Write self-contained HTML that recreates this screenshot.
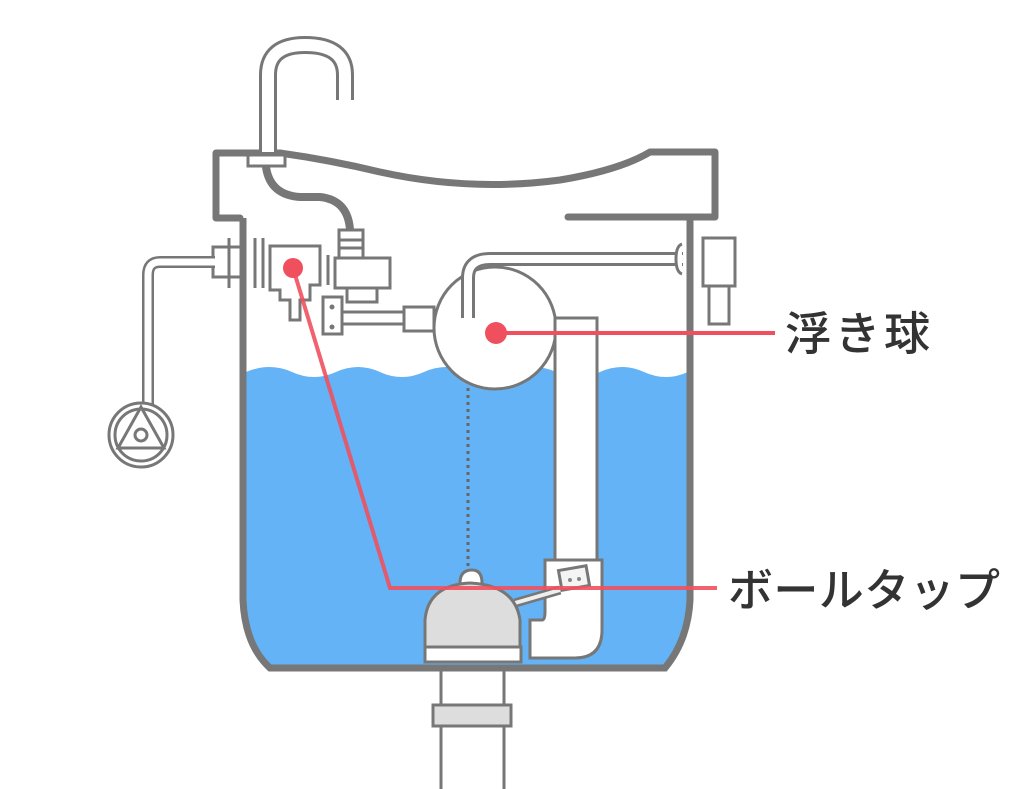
<!DOCTYPE html>
<html><head><meta charset="utf-8"><style>
html,body{margin:0;padding:0;background:#fff;}
svg{display:block}
</style></head><body>
<svg width="1024" height="789" viewBox="0 0 1024 789" xmlns="http://www.w3.org/2000/svg">
<rect width="1024" height="789" fill="#fff"/>
<!-- water -->
<path d="M246 372 Q270 362 292 372 T336 372 T380 372 T424 372 T468 372 T512 372 T556 372 T600 372 T644 372 T688 372 L688 600 Q686 640 663 666 L270 666 Q247 645 246 600 Z" fill="#63b3f6"/>
<!-- drain pipe -->
<rect x="441" y="668" width="63" height="121" fill="#fff"/>
<path d="M441 668 L441 789 M504 668 L504 789" stroke="#777" stroke-width="3"/>
<rect x="433" y="705" width="78" height="21" fill="#ddd" stroke="#777" stroke-width="3"/>
<!-- tank -->
<path d="M243 218 L243 600 Q245 645 270 668 L665 668 Q688 640 690 600 L690 218" fill="none" stroke="#777" stroke-width="7"/>
<path d="M240 218 L216 218 L216 153 L280 153 Q330 160 380 172 Q470 192 560 180 Q620 170 650 152 L715 152 L715 217 L568 217" fill="none" stroke="#777" stroke-width="7" stroke-linejoin="round" stroke-linecap="round"/>
<!-- faucet -->
<path d="M268 152 L268 75 Q268 45 305 45 Q345 45 345 75 L345 100" fill="none" stroke="#777" stroke-width="18"/>
<path d="M268 152 L268 75 Q268 45 305 45 Q345 45 345 75 L345 100" fill="none" stroke="#fff" stroke-width="12"/>
<rect x="248" y="155" width="37" height="11" fill="#fff" stroke="#777" stroke-width="3"/>
<!-- inner hose -->
<path d="M266 167 Q270 195 300 197 L320 197 Q348 200 350 230 L350 235" fill="none" stroke="#777" stroke-width="8"/>
<rect x="339" y="230" width="24" height="28" fill="#fff" stroke="#777" stroke-width="3"/>
<path d="M339 240 H363 M339 248 H363" stroke="#777" stroke-width="3"/>
<rect x="335" y="258" width="55" height="30" fill="#fff" stroke="#777" stroke-width="3"/>
<rect x="347" y="288" width="30" height="14" fill="#fff" stroke="#777" stroke-width="3"/>
<!-- left valve -->
<rect x="213" y="247" width="28" height="30" fill="#fff" stroke="#777" stroke-width="3"/>
<path d="M229 238 V288 M255 238 V288 M263 238 V288 M270 245 V282" stroke="#777" stroke-width="3"/>
<path d="M270 246 H320 V285 H310 V300 H300 V320 H290 V300 H280 V290 H270 Z" fill="#fff" stroke="#777" stroke-width="3"/>
<path d="M328 255 V285" stroke="#777" stroke-width="3"/>
<rect x="323" y="297" width="19" height="37" fill="#fff" stroke="#777" stroke-width="3"/>
<circle cx="332" cy="307" r="2.5" fill="#777"/><circle cx="332" cy="327" r="2.5" fill="#777"/>
<!-- left pipe and handle -->
<path d="M215 262 L160 262 Q148 262 148 275 L148 405" fill="none" stroke="#777" stroke-width="12"/>
<path d="M215 262 L160 262 Q148 262 148 275 L148 405" fill="none" stroke="#fff" stroke-width="7"/>
<circle cx="141" cy="435" r="32" fill="#fff" stroke="#777" stroke-width="3"/>
<circle cx="141" cy="435" r="26" fill="none" stroke="#777" stroke-width="3"/>
<path d="M141 407 L118 448 L164 448 Z" fill="none" stroke="#777" stroke-width="3"/>
<circle cx="141" cy="435" r="6" fill="#fff" stroke="#777" stroke-width="3"/>
<!-- float arm -->
<rect x="342" y="312" width="65" height="12" fill="#fff" stroke="#777" stroke-width="3"/>
<rect x="404" y="307" width="30" height="24" fill="#fff" stroke="#777" stroke-width="3"/>
<!-- float ball -->
<circle cx="495" cy="328" r="61" fill="#fff" stroke="#777" stroke-width="3"/>
<!-- chain -->
<path d="M468 388 V575" stroke="#666" stroke-width="3" stroke-dasharray="3 4"/>
<!-- top arm -->
<path d="M468 318 V278 Q468 259 490 259 L683 259" fill="none" stroke="#777" stroke-width="14"/>
<path d="M468 318 V278 Q468 259 490 259 L683 259" fill="none" stroke="#fff" stroke-width="8"/>
<path d="M682 244 Q676 246 676 259 Q676 272 682 274" fill="#fff" stroke="#777" stroke-width="3"/>
<rect x="703" y="238" width="32" height="48" fill="#fff" stroke="#777" stroke-width="3"/>
<rect x="709" y="286" width="20" height="38" fill="#fff" stroke="#777" stroke-width="3"/>
<!-- overflow pipe -->
<path d="M555 318 L597 318 L597 560 L602 560 L602 630 Q602 658 575 658 L530 658 L530 620 L542 620 Q545 620 545 612 L545 560 L555 560 Z" fill="#fff" stroke="#777" stroke-width="3"/>
<path d="M545 560 H602" stroke="#777" stroke-width="3"/>
<rect x="560" y="568" width="28" height="20" fill="#f4f4f4" stroke="#777" stroke-width="3" transform="rotate(-10 574 578)"/>
<circle cx="570" cy="580" r="2" fill="#888"/><circle cx="579" cy="579" r="2" fill="#888"/>
<!-- flapper -->
<path d="M515 603 L560 590" stroke="#777" stroke-width="9"/>
<path d="M515 603 L560 590" stroke="#eee" stroke-width="4"/>
<path d="M460 583 Q460 570 472 570 Q482 570 482 583" fill="#fff" stroke="#777" stroke-width="3"/>
<path d="M425 648 L425 620 Q428 585 470 583 Q515 585 520 620 L520 648 Z" fill="#ddd" stroke="#777" stroke-width="3"/>
<rect x="425" y="647" width="96" height="15" fill="#fff" stroke="#777" stroke-width="3"/>
<!-- red callouts -->
<path d="M293 268 L390 588 L717 588" fill="none" stroke="#f0505e" stroke-width="4" opacity="0.9"/>
<path d="M495 333 L775 333" stroke="#f0505e" stroke-width="4"/>
<circle cx="293" cy="268" r="10" fill="#f0505e"/>
<circle cx="496" cy="333" r="11" fill="#f0505e"/>
<text x="785" y="350" font-family="Liberation Sans, Noto Sans CJK JP, sans-serif" font-size="46" font-weight="500" fill="#333" textLength="145">浮き球</text>
<text x="728" y="606" font-family="Liberation Sans, Noto Sans CJK JP, sans-serif" font-size="45" font-weight="500" fill="#333" textLength="272">ボールタップ</text>
</svg>
</body></html>
